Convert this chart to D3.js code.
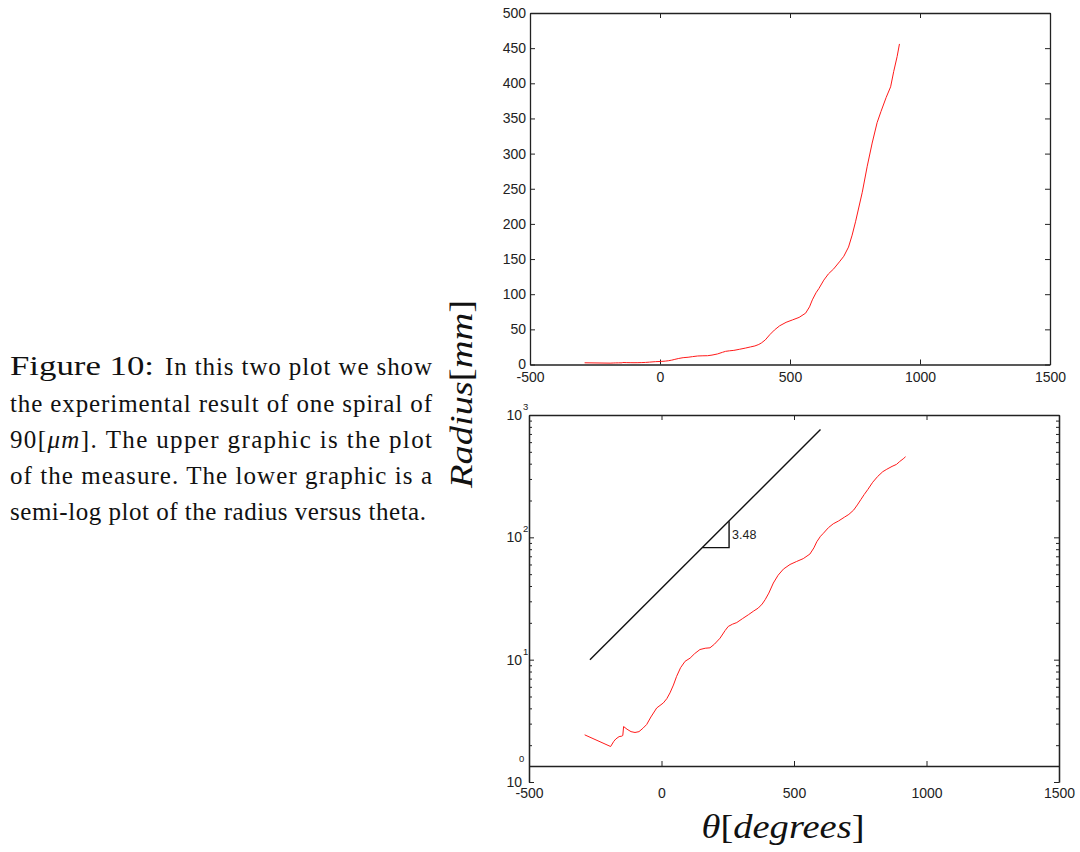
<!DOCTYPE html>
<html>
<head>
<meta charset="utf-8">
<script src="https://cdn.jsdelivr.net/npm/d3@7"></script>
<style>
body { margin: 0; background: #fff; }
</style>
</head>
<body>
<div id="chart"></div>
<script>
// measured spiral: angle in degrees and radius in mm
var thetaDeg = [-290, -192, -180, -172, -160, -150, -146, -143, -130, -115, -100, -85, -70, -56, -40, -18,
    7, 20, 32, 45, 57, 72, 89, 108, 125, 145, 165, 183, 200, 221, 240, 252, 268, 284, 305, 328, 348, 365,
    380, 391, 405, 422, 440, 460, 485, 510, 535, 560, 575, 586, 600, 611, 630, 648, 668, 690, 707, 725,
    739, 752, 765, 778, 797, 816, 835, 850, 870, 887, 899, 912, 921];
var radius = [2.43, 1.95, 2.15, 2.25, 2.35, 2.37, 2.4, 2.84, 2.7, 2.58, 2.54, 2.58, 2.75, 2.95, 3.4, 4.03,
    4.43, 4.8, 5.35, 6.2, 7.3, 8.6, 9.7, 10.3, 11.2, 12.1, 12.4, 12.5, 13.4, 15.0, 17.3, 18.7, 19.5, 20.1,
    21.6, 23.3, 25.0, 26.4, 28.5, 30.9, 35, 42.3, 49, 55, 60, 63.5, 67, 73, 82, 92, 102, 108, 120, 129,
    136, 146, 154, 167, 184, 203, 224, 245, 282, 315, 344, 360, 380, 395, 417, 438, 456];

// reference slope line and its triangle
var lineTheta = [-270, 600];
var lineRadius = [10, 760];
var triTheta = [155, 255, 255];
var triRadius = [82.4, 82.4, 135.5];
var slopeLabel = "3.48";

var thetaTicks = [-500, 0, 500, 1000, 1500];
var radiusTicks = [0, 50, 100, 150, 200, 250, 300, 350, 400, 450, 500];
var logTicks = [1, 10, 100, 1000];
var logExponents = ["0", "1", "2", "3"];

var captionLabel = "Figure 10:";
var captionLines = [
    "In this two plot we show",
    "the experimental result of one spiral of",
    ["90[", "μm", "]. The upper graphic is the plot"],
    "of the measure. The lower graphic is a",
    "semi-log plot of the radius versus theta."
];

var W = 1080, H = 852;
var ink = "#222";
var sans = "Liberation Sans, Arial, Helvetica, sans-serif";
var serif = "Liberation Serif, Times New Roman, Times, serif";

var svg = d3.select("#chart").append("svg")
    .attr("width", W)
    .attr("height", H)
    .style("background", "#fff");

// ---------- caption ----------
var cap = svg.append("g").style("font-family", serif).attr("fill", "#111");
cap.append("text").attr("x", 10).attr("y", 375).attr("font-size", 28)
    .attr("textLength", 144).attr("lengthAdjust", "spacingAndGlyphs").text(captionLabel);
var capX = [165, 10, 10, 10, 10];
var capLen = [267, 422, 422, 422, 416];
var capY = [375, 411.5, 447.5, 484, 520];
captionLines.forEach(function (line, i) {
    var t = cap.append("text")
        .attr("x", capX[i])
        .attr("y", capY[i])
        .attr("font-size", 25)
        .attr("textLength", capLen[i])
        .attr("lengthAdjust", "spacing");
    if (Array.isArray(line)) {
        t.append("tspan").text(line[0]);
        t.append("tspan").attr("font-style", "italic").text(line[1]);
        t.append("tspan").text(line[2]);
    } else {
        t.text(line);
    }
});

var plain = function (d) { return String(d); };

function styleAxis(g) {
    g.attr("font-size", 14).style("font-family", sans);
    g.selectAll("path.domain").attr("stroke", ink).attr("stroke-width", 1.3);
    g.selectAll(".tick line").attr("stroke", ink).attr("stroke-width", 1);
    g.selectAll(".tick text").attr("fill", ink);
}

// ---------- top plot (linear) ----------
var xTop = d3.scaleLinear().domain([-500, 1500]).range([530, 1050]);
var yTop = d3.scaleLinear().domain([0, 500]).range([364.5, 13]);

svg.append("g").attr("transform", "translate(0," + yTop.range()[0] + ")")
    .call(d3.axisBottom(xTop).tickValues(thetaTicks).tickFormat(plain)
        .tickSizeInner(-5).tickSizeOuter(0).tickPadding(8))
    .call(styleAxis);
svg.append("g").attr("transform", "translate(0," + yTop.range()[1] + ")")
    .call(d3.axisTop(xTop).tickValues(thetaTicks).tickSizeInner(-5).tickSizeOuter(0).tickFormat(""))
    .call(styleAxis);
svg.append("g").attr("transform", "translate(" + xTop.range()[0] + ",0)")
    .call(d3.axisLeft(yTop).tickValues(radiusTicks).tickFormat(plain)
        .tickSizeInner(-5).tickSizeOuter(0).tickPadding(4))
    .call(styleAxis);
svg.append("g").attr("transform", "translate(" + xTop.range()[1] + ",0)")
    .call(d3.axisRight(yTop).tickValues(radiusTicks).tickSizeInner(-5).tickSizeOuter(0).tickFormat(""))
    .call(styleAxis);

var lineTop = d3.line()
    .x(function (d, i) { return xTop(thetaDeg[i]); })
    .y(function (d) { return yTop(d); });
svg.append("path")
    .datum(radius)
    .attr("d", lineTop)
    .attr("fill", "none")
    .attr("stroke", "#ff1a1a")
    .attr("stroke-width", 1);

// ---------- bottom plot (semi-log) ----------
var xBot = d3.scaleLinear().domain([-500, 1500]).range([529, 1059]);
var yBot = d3.scaleLog().domain([1, 1000]).range([782, 415]);
var xAxisY = 766;

var minorTicks = [];
[1, 10, 100].forEach(function (dec) {
    for (var k = 2; k <= 9; k++) minorTicks.push(dec * k);
});

svg.append("g").attr("transform", "translate(0," + xAxisY + ")")
    .call(d3.axisBottom(xBot).tickValues(thetaTicks).tickFormat(plain)
        .tickSizeInner(-5).tickSizeOuter(0).tickPadding(22))
    .call(styleAxis);
svg.append("g").attr("transform", "translate(0," + yBot.range()[1] + ")")
    .call(d3.axisTop(xBot).tickValues(thetaTicks).tickSizeInner(-5).tickSizeOuter(0).tickFormat(""))
    .call(styleAxis);

[xBot.range()[0], xBot.range()[1]].forEach(function (xp, side) {
    var mk = side === 0 ? d3.axisLeft : d3.axisRight;
    svg.append("g").attr("transform", "translate(" + xp + ",0)")
        .call(mk(yBot).tickValues(minorTicks).tickSizeInner(-3).tickSizeOuter(0).tickFormat(""))
        .call(styleAxis);
    svg.append("g").attr("transform", "translate(" + xp + ",0)")
        .call(mk(yBot).tickValues(logTicks).tickSizeInner(-5).tickSizeOuter(0).tickFormat(""))
        .call(styleAxis);
});

// power-of-ten labels on the log axis
var logLab = svg.append("g").style("font-family", sans).attr("fill", ink);
logTicks.forEach(function (v, i) {
    var yp = yBot(v);
    logLab.append("text")
        .attr("x", xBot.range()[0] - 7)
        .attr("y", yp)
        .attr("dy", "0.35em")
        .attr("text-anchor", "end")
        .attr("font-size", 14)
        .text("10");
    logLab.append("text")
        .attr("x", xBot.range()[0] - (i === 0 ? 10 : 6))
        .attr("y", yp - (i === 0 ? 20 : 5))
        .attr("font-size", 9.5)
        .text(logExponents[i]);
});

var lineBot = d3.line()
    .x(function (d, i) { return xBot(thetaDeg[i]); })
    .y(function (d) { return yBot(d); });
svg.append("path")
    .datum(radius)
    .attr("d", lineBot)
    .attr("fill", "none")
    .attr("stroke", "#ff1a1a")
    .attr("stroke-width", 1);

var slopeLine = d3.line()
    .x(function (d) { return xBot(d[0]); })
    .y(function (d) { return yBot(d[1]); });
svg.append("path")
    .datum(d3.zip(lineTheta, lineRadius))
    .attr("d", slopeLine)
    .attr("fill", "none")
    .attr("stroke", "#111")
    .attr("stroke-width", 1.4);
svg.append("path")
    .datum(d3.zip(triTheta, triRadius))
    .attr("d", slopeLine)
    .attr("fill", "none")
    .attr("stroke", "#111")
    .attr("stroke-width", 1.4);
svg.append("text")
    .attr("x", xBot(triTheta[2]) + 3)
    .attr("y", yBot(Math.sqrt(triRadius[1] * triRadius[2])))
    .attr("dy", "0.35em")
    .style("font-family", sans)
    .attr("font-size", 12.5)
    .attr("fill", ink)
    .text(slopeLabel);

// ---------- axis titles ----------
var yTitle = svg.append("text")
    .attr("transform", "translate(472,394) rotate(-90)")
    .attr("text-anchor", "middle")
    .style("font-family", serif)
    .attr("font-size", 31)
    .attr("fill", "#111")
    .attr("textLength", 188)
    .attr("lengthAdjust", "spacingAndGlyphs");
yTitle.append("tspan").attr("font-style", "italic").text("Radius");
yTitle.append("tspan").text("[");
yTitle.append("tspan").attr("font-style", "italic").text("mm");
yTitle.append("tspan").text("]");

var xTitle = svg.append("text")
    .attr("x", 783)
    .attr("y", 838)
    .attr("text-anchor", "middle")
    .style("font-family", serif)
    .attr("font-size", 34)
    .attr("fill", "#111")
    .attr("textLength", 163)
    .attr("lengthAdjust", "spacingAndGlyphs");
xTitle.append("tspan").attr("font-style", "italic").text("θ");
xTitle.append("tspan").text("[");
xTitle.append("tspan").attr("font-style", "italic").text("degrees");
xTitle.append("tspan").text("]");
</script>
</body>
</html>
